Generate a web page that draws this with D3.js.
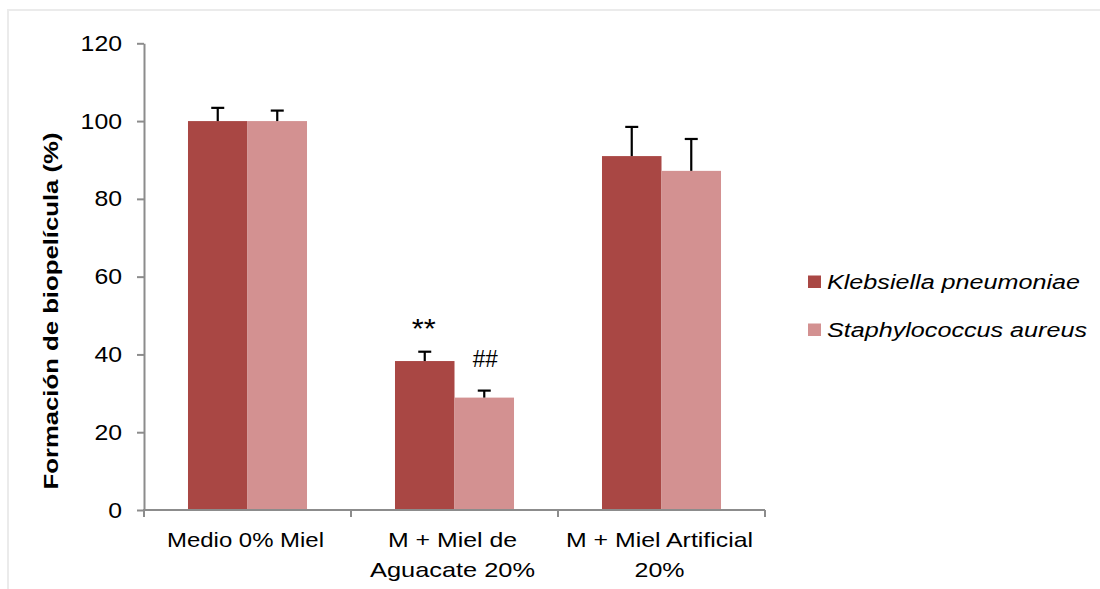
<!DOCTYPE html>
<html>
<head>
<meta charset="utf-8">
<script src="https://cdn.jsdelivr.net/npm/d3@7"></script>
<style>
  html, body { margin: 0; padding: 0; background: #fff; }
  svg { display: block; font-family: "Liberation Sans", Arial, sans-serif; }
</style>
</head>
<body>
<svg id="chart" width="1100" height="589"></svg>
<script>
// ---- data ----
const categories = ["Medio 0% Miel", "M + Miel de Aguacate 20%", "M + Miel Artificial 20%"];
const categoryLines = [["Medio 0% Miel"], ["M + Miel de", "Aguacate 20%"], ["M + Miel Artificial", "20%"]];
const seriesNames = ["Klebsiella pneumoniae", "Staphylococcus aureus"];
const klebsiellaValues = [100, 38.3, 91.0];
const klebsiellaErrors = [3.4, 2.4, 7.5];
const staphValues = [100, 28.9, 87.2];
const staphErrors = [2.7, 1.8, 8.2];
const annotations = ["**", "##"]; // on group 2: Klebsiella, Staphylococcus
const yTicks = [0, 20, 40, 60, 80, 100, 120];
const yTitle = "Formación de biopelícula (%)";

const colors = ["#a94744", "#d39191"];
const seriesValues = [klebsiellaValues, staphValues];
const seriesErrors = [klebsiellaErrors, staphErrors];

const svg = d3.select("#chart");

// border frame
svg.append("rect").attr("x", 8).attr("y", 10).attr("width", 1100).attr("height", 600)
  .attr("fill", "none").attr("stroke", "#ebebeb").attr("stroke-width", 2);

const x = d3.scaleBand().domain(categories).range([144, 765]).paddingInner(0.425).paddingOuter(0.2125);
const xs = d3.scaleBand().domain(seriesNames).range([0, x.bandwidth()]).padding(0);
const y = d3.scaleLinear().domain([0, 120]).range([510, 43.3]);

// bars
const groups = svg.append("g").selectAll("g").data(categories).join("g")
  .attr("transform", d => `translate(${x(d)},0)`);

seriesNames.forEach((s, si) => {
  groups.append("rect")
    .attr("x", xs(s))
    .attr("width", xs.bandwidth())
    .attr("y", (d, i) => y(seriesValues[si][i]))
    .attr("height", (d, i) => y(0) - y(seriesValues[si][i]))
    .attr("fill", colors[si]);
});

// error bars (upper only)
seriesNames.forEach((s, si) => {
  const cx = xs(s) + xs.bandwidth() / 2;
  groups.append("line")
    .attr("x1", cx).attr("x2", cx)
    .attr("y1", (d, i) => y(seriesValues[si][i]))
    .attr("y2", (d, i) => y(seriesValues[si][i] + seriesErrors[si][i]))
    .attr("stroke", "#000").attr("stroke-width", 2.2);
  groups.append("line")
    .attr("x1", cx - 6.5).attr("x2", cx + 6.5)
    .attr("y1", (d, i) => y(seriesValues[si][i] + seriesErrors[si][i]))
    .attr("y2", (d, i) => y(seriesValues[si][i] + seriesErrors[si][i]))
    .attr("stroke", "#000").attr("stroke-width", 2.2);
});

// annotations on group 2
const g2 = categories[1];
svg.append("text").attr("x", x(g2) + xs(seriesNames[0]) + xs.bandwidth() / 2 - 1)
  .attr("y", y(klebsiellaValues[1] + klebsiellaErrors[1]) - 14)
  .attr("text-anchor", "middle").attr("font-size", 27).attr("fill", "#000")
  .attr("textLength", 24).attr("lengthAdjust", "spacingAndGlyphs")
  .text(annotations[0]);
svg.append("text").attr("x", x(g2) + xs(seriesNames[1]) + xs.bandwidth() / 2 + 1)
  .attr("y", y(staphValues[1] + staphErrors[1]) - 24)
  .attr("text-anchor", "middle").attr("font-size", 24).attr("fill", "#000")
  .attr("textLength", 25).attr("lengthAdjust", "spacingAndGlyphs")
  .text(annotations[1]);

// y axis
const yAxis = svg.append("g").attr("transform", "translate(144,0)")
  .call(d3.axisLeft(y).tickValues(yTicks).tickSize(7).tickPadding(15).tickSizeOuter(0));
yAxis.select(".domain").attr("stroke", "#8c8c8c").attr("stroke-width", 2);
yAxis.selectAll(".tick line").attr("stroke", "#8c8c8c").attr("stroke-width", 2);
yAxis.selectAll(".tick text").attr("font-size", 22).attr("fill", "#000")
  .attr("font-family", "Liberation Sans, Arial, sans-serif")
  .each(function(d) {
    const n = String(d).length;
    d3.select(this).attr("textLength", n * 13.8).attr("lengthAdjust", "spacingAndGlyphs");
  });

// x axis
const xAxisG = svg.append("g").attr("transform", "translate(0,510)");
xAxisG.append("line").attr("x1", 143).attr("x2", 765).attr("y1", 0).attr("y2", 0)
  .attr("stroke", "#8c8c8c").attr("stroke-width", 2);
const boundaries = [x.range()[0]].concat(categories.map(c => x(c) - x.step() * x.paddingInner() / 2 + x.step()));
xAxisG.selectAll("line.tk").data(boundaries).join("line").attr("class", "tk")
  .attr("x1", d => d).attr("x2", d => d).attr("y1", 0).attr("y2", 7)
  .attr("stroke", "#8c8c8c").attr("stroke-width", 2);

// category labels
const catWidths = [[157], [129, 165], [187, 50]];
categories.forEach((c, ci) => {
  categoryLines[ci].forEach((line, li) => {
    svg.append("text")
      .attr("x", x(c) + x.bandwidth() / 2 - 2)
      .attr("y", 547 + li * 30)
      .attr("text-anchor", "middle").attr("font-size", 21).attr("fill", "#000")
      .attr("textLength", catWidths[ci][li]).attr("lengthAdjust", "spacingAndGlyphs")
      .text(line);
  });
});

// y title
svg.append("text")
  .attr("transform", "translate(58,311) rotate(-90)")
  .attr("text-anchor", "middle").attr("font-size", 21).attr("font-weight", "bold").attr("fill", "#000")
  .attr("textLength", 357).attr("lengthAdjust", "spacingAndGlyphs")
  .text(yTitle);

// legend
const legendWidths = [253, 260];
seriesNames.forEach((s, si) => {
  const ly = 289 + si * 48;
  svg.append("rect").attr("x", 808).attr("y", ly - 13.5).attr("width", 13).attr("height", 12.5)
    .attr("fill", colors[si]);
  svg.append("text").attr("x", 827).attr("y", ly)
    .attr("font-size", 20).attr("font-style", "italic").attr("fill", "#000")
    .attr("textLength", legendWidths[si]).attr("lengthAdjust", "spacingAndGlyphs")
    .text(s);
});
</script>
</body>
</html>
